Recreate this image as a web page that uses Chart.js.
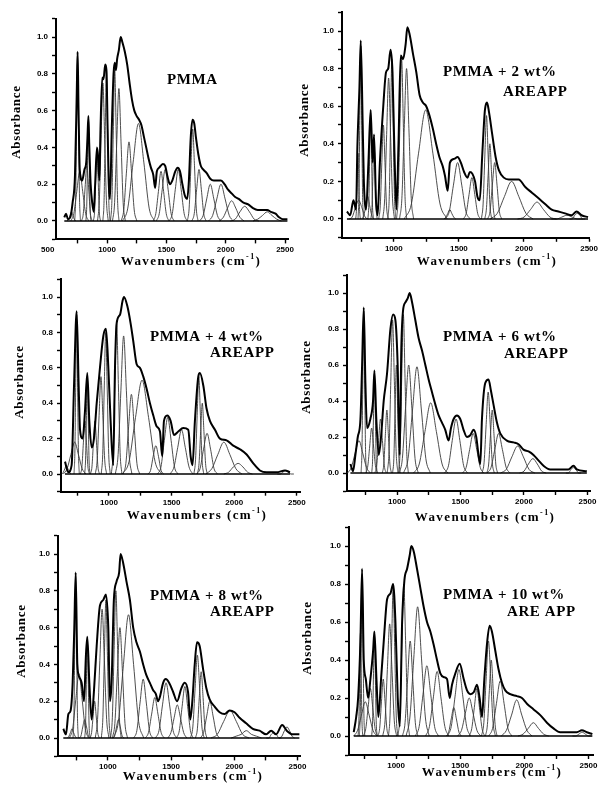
<!DOCTYPE html>
<html><head><meta charset="utf-8">
<script src="https://cdn.jsdelivr.net/npm/chart.js@4.4.1/dist/chart.umd.min.js"></script>
<style>
html,body{margin:0;padding:0;background:#fff;}
#wrap{position:relative;width:600px;height:790px;overflow:hidden;background:#fff;}
#wrap canvas{position:absolute;left:0;top:0;}
</style></head><body><div id="wrap"></div>
<script>
// ---------------- DATA ----------------
const panelLabels = [["PMMA"], ["PMMA + 2 wt%", "AREAPP"], ["PMMA + 4 wt%", "AREAPP"], ["PMMA + 6 wt%", "AREAPP"], ["PMMA + 8 wt%", "AREAPP"], ["PMMA + 10 wt%", "ARE APP"]];
const xAxisTitle = "Wavenumbers (cm";
const xAxisTitleSup = "-1";
const xAxisTitleEnd = ")";
const yAxisTitle = "Absorbance";
const xMajorTicks = [1000, 1500, 2000, 2500];
const xMinorTicks = [750, 1250, 1750, 2250];
const xExtraTicksFirst = [500];
const yTicks = [-0.1, 0, 0.1, 0.2, 0.3, 0.4, 0.5, 0.6, 0.7, 0.8, 0.9, 1.0, 1.1];
const yLabelledTicks = [0, 0.2, 0.4, 0.6, 0.8, 1.0];

// measured spectra [wavenumber, absorbance]
const spectrum0 = [[640,.02],[655,.04],[670,.01],[690,.02],[710,.1],[730,.25],[745,.7],[752,.92],[760,.6],[770,.28],[790,.22],[810,.28],[825,.32],[835,.45],[843,.57],[850,.42],[862,.2],[875,.1],[888,.05],[900,.2],[915,.4],[925,.35],[935,.22],[945,.5],[960,.78],[970,.77],[985,.85],[995,.82],[1005,.5],[1015,.2],[1025,.12],[1040,.5],[1055,.8],[1065,.86],[1075,.82],[1085,.88],[1100,.93],[1115,1.0],[1130,.97],[1150,.92],[1170,.85],[1190,.75],[1210,.66],[1230,.6],[1250,.57],[1270,.55],[1290,.52],[1310,.46],[1330,.4],[1350,.34],[1370,.29],[1390,.25],[1405,.18],[1420,.27],[1440,.29],[1470,.31],[1490,.3],[1510,.24],[1530,.2],[1550,.22],[1575,.27],[1595,.29],[1615,.27],[1635,.2],[1655,.14],[1675,.12],[1690,.22],[1705,.45],[1720,.55],[1735,.53],[1750,.45],[1770,.36],[1790,.3],[1810,.28],[1840,.26],[1870,.23],[1900,.22],[1930,.22],[1960,.22],[1990,.2],[2020,.17],[2050,.15],[2080,.13],[2110,.12],[2150,.1],[2190,.09],[2230,.07],[2270,.06],[2310,.06],[2350,.06],[2380,.05],[2420,.04],[2450,.02],[2480,.01],[2520,.01]];
const spectrum2wt = [[640,.04],[665,.02],[690,.1],[710,.05],[720,.38],[736,.7],[746,.95],[761,.5],[770,.2],[787,.05],[805,.3],[822,.58],[838,.3],[848,.45],[863,.1],[876,.02],[893,.3],[919,.6],[940,.78],[957,.8],[975,.9],[990,.78],[1005,.35],[1020,.05],[1036,.4],[1053,.87],[1071,.85],[1091,.93],[1104,1.02],[1122,.98],[1147,.88],[1173,.78],[1198,.66],[1223,.62],[1249,.6],[1274,.55],[1300,.48],[1325,.4],[1350,.33],[1376,.28],[1393,.23],[1414,.15],[1431,.3],[1464,.32],[1490,.33],[1515,.3],[1540,.25],[1566,.22],[1584,.25],[1604,.24],[1624,.2],[1642,.12],[1660,.1],[1680,.35],[1700,.58],[1716,.62],[1731,.57],[1756,.45],[1782,.33],[1807,.26],[1845,.22],[1883,.21],[1920,.21],[1959,.21],[2010,.17],[2061,.14],[2112,.11],[2162,.08],[2213,.05],[2264,.04],[2315,.03],[2365,.02],[2404,.04],[2442,.02],[2492,.01]];
const spectrum4wt = [[649,.07],[675,.01],[702,.05],[721,.5],[742,.92],[758,.5],[769,.25],[790,.2],[808,.35],[827,.57],[843,.3],[862,.15],[880,.2],[902,.4],[928,.6],[955,.78],[976,.82],[995,.6],[1013,.3],[1034,.05],[1048,.6],[1061,.85],[1088,.9],[1109,.98],[1120,1.0],[1146,.95],[1173,.85],[1194,.75],[1221,.62],[1247,.6],[1274,.55],[1301,.48],[1327,.4],[1354,.33],[1380,.27],[1407,.24],[1425,.1],[1439,.3],[1465,.33],[1492,.3],[1519,.22],[1553,.24],[1593,.26],[1633,.25],[1652,.1],[1667,.05],[1686,.3],[1713,.55],[1726,.57],[1753,.5],[1779,.37],[1806,.3],[1846,.25],[1886,.2],[1939,.19],[1992,.16],[2045,.14],[2099,.11],[2152,.06],[2205,.02],[2259,.01],[2338,.01],[2405,.02],[2445,.01]];
const spectrum6wt = [[633,.05],[654,.01],[672,.1],[691,.2],[712,.3],[725,.6],[738,.92],[751,.5],[764,.25],[790,.3],[811,.4],[822,.57],[837,.3],[856,.1],[874,.2],[895,.4],[921,.55],[948,.8],[969,.88],[987,.85],[1005,.6],[1021,.1],[1034,.7],[1047,.9],[1068,.95],[1084,.97],[1100,1.0],[1118,.95],[1144,.85],[1170,.75],[1197,.68],[1223,.6],[1249,.52],[1275,.45],[1302,.38],[1328,.32],[1354,.28],[1380,.24],[1406,.18],[1425,.25],[1446,.3],[1472,.32],[1498,.3],[1524,.24],[1551,.2],[1577,.21],[1603,.24],[1624,.2],[1642,.1],[1656,.05],[1669,.3],[1695,.5],[1721,.52],[1739,.46],[1760,.38],[1787,.28],[1813,.22],[1865,.18],[1918,.17],[1957,.16],[1996,.13],[2036,.12],[2075,.1],[2114,.07],[2154,.04],[2206,.02],[2259,.02],[2311,.02],[2350,.02],[2390,.04],[2416,.02],[2495,.01]];
const spectrum8wt = [[647,.05],[668,.02],[687,.13],[705,.15],[721,.3],[734,.6],[745,.9],[758,.4],[774,.33],[792,.3],[811,.2],[826,.45],[837,.55],[853,.3],[871,.1],[889,.25],[911,.5],[937,.72],[963,.75],[984,.78],[1003,.6],[1016,.2],[1029,.3],[1047,.75],[1068,.85],[1089,.9],[1100,1.0],[1121,.95],[1147,.85],[1174,.75],[1200,.6],[1226,.52],[1253,.47],[1279,.4],[1305,.34],[1332,.3],[1358,.26],[1379,.24],[1397,.2],[1410,.22],[1437,.3],[1458,.32],[1484,.3],[1516,.25],[1547,.2],[1581,.27],[1608,.3],[1634,.25],[1652,.1],[1668,.2],[1687,.4],[1705,.52],[1726,.5],[1752,.38],[1779,.27],[1805,.21],[1845,.17],[1884,.14],[1923,.13],[1963,.15],[2002,.14],[2042,.11],[2094,.08],[2147,.05],[2200,.04],[2252,.02],[2292,.04],[2331,.02],[2379,.07],[2415,.04],[2463,.02],[2515,.02]];
const spectrum10wt = [[670,.02],[689,.1],[704,.2],[722,.5],[735,.88],[748,.4],[764,.3],[782,.2],[800,.3],[821,.45],[831,.55],[847,.3],[862,.1],[883,.3],[904,.5],[930,.72],[956,.75],[977,.8],[995,.6],[1013,.2],[1029,.05],[1047,.6],[1065,.82],[1086,.88],[1106,.95],[1119,1.0],[1138,.97],[1163,.88],[1189,.78],[1215,.68],[1241,.6],[1267,.55],[1293,.48],[1319,.4],[1345,.33],[1371,.31],[1397,.3],[1418,.2],[1436,.27],[1462,.33],[1496,.38],[1527,.3],[1553,.24],[1579,.22],[1605,.23],[1631,.27],[1651,.2],[1670,.1],[1688,.3],[1708,.48],[1729,.58],[1747,.55],[1773,.45],[1799,.35],[1825,.28],[1851,.24],[1890,.22],[1942,.21],[1981,.2],[2020,.17],[2072,.14],[2124,.11],[2176,.07],[2227,.04],[2279,.02],[2331,.02],[2409,.02],[2448,.03],[2487,.02],[2530,.01]];

// fitted component bands
const peaks0 = [
[[664,0],[676,.01],[688,.03],[700,.05],[712,.03],[724,.01],[736,0]],
[[728,0],[736,.13],[744,.54],[752,.9],[760,.54],[768,.13],[776,0]],
[[695,0],[720,.04],[745,.16],[770,.27],[795,.16],[820,.04],[845,0]],
[[785,0],[800,.04],[815,.18],[830,.3],[845,.18],[860,.04],[875,0]],
[[822,0],[829,.08],[836,.33],[843,.55],[850,.33],[857,.08],[864,0]],
[[885,0],[895,.05],[905,.23],[915,.38],[925,.23],[935,.05],[945,0]],
[[920,0],[935,.11],[950,.45],[965,.75],[980,.45],[995,.11],[1010,0]],
[[965,0],[975,.11],[985,.49],[995,.82],[1005,.49],[1015,.11],[1025,0]],
[[1029,0],[1041,.11],[1053,.49],[1065,.82],[1077,.49],[1089,.11],[1101,0]],
[[1046,0],[1064,.1],[1082,.43],[1100,.72],[1118,.43],[1136,.1],[1154,0]],
[[1119,0],[1141,.06],[1163,.26],[1185,.43],[1207,.26],[1229,.06],[1251,0]],
[[1130,0],[1175,.07],[1220,.32],[1265,.53],[1310,.32],[1355,.07],[1400,0]],
[[1389,0],[1411,.04],[1433,.16],[1455,.27],[1477,.16],[1499,.04],[1521,0]],
[[1415,0],[1440,.04],[1465,.17],[1490,.28],[1515,.17],[1540,.04],[1565,0]],
[[1525,0],[1550,.04],[1575,.17],[1600,.28],[1625,.17],[1650,.04],[1675,0]],
[[1677,0],[1692,.07],[1707,.3],[1722,.5],[1737,.3],[1752,.07],[1767,0]],
[[1715,0],[1735,.04],[1755,.17],[1775,.28],[1795,.17],[1815,.04],[1835,0]],
[[1780,0],[1810,.03],[1840,.12],[1870,.2],[1900,.12],[1930,.03],[1960,0]],
[[1855,0],[1890,.03],[1925,.12],[1960,.2],[1995,.12],[2030,.03],[2065,0]],
[[1945,0],[1980,.02],[2015,.07],[2050,.11],[2085,.07],[2120,.02],[2155,0]],
[[2040,0],[2080,.01],[2120,.05],[2160,.08],[2200,.05],[2240,.01],[2280,0]],
[[2230,0],[2270,.01],[2310,.03],[2350,.05],[2390,.03],[2430,.01],[2470,0]]
];
const peaks2wt = [
[[655,0],[680,.01],[705,.06],[730,.1],[755,.06],[780,.01],[805,0]],
[[725,0],[732,.13],[739,.55],[746,.92],[753,.55],[760,.13],[767,0]],
[[707,0],[713,.05],[719,.21],[725,.35],[731,.21],[737,.05],[743,0]],
[[801,0],[808,.08],[815,.35],[822,.58],[829,.35],[836,.08],[843,0]],
[[824,0],[832,.06],[840,.25],[848,.42],[856,.25],[864,.06],[872,0]],
[[755,0],[770,.02],[785,.07],[800,.12],[815,.07],[830,.02],[845,0]],
[[884,0],[896,.07],[908,.3],[920,.5],[932,.3],[944,.07],[956,0]],
[[915,0],[930,.11],[945,.45],[960,.75],[975,.45],[990,.11],[1005,0]],
[[955,0],[965,.12],[975,.51],[985,.85],[995,.51],[1005,.12],[1015,0]],
[[1021,0],[1034,.12],[1047,.51],[1060,.85],[1073,.51],[1086,.12],[1099,0]],
[[1044,0],[1062,.11],[1080,.48],[1098,.8],[1116,.48],[1134,.11],[1152,0]],
[[1080,0],[1135,.08],[1190,.35],[1245,.58],[1300,.35],[1355,.08],[1410,0]],
[[1385,0],[1400,.01],[1415,.03],[1430,.05],[1445,.03],[1460,.01],[1475,0]],
[[1394,0],[1426,.04],[1458,.18],[1490,.3],[1522,.18],[1554,.04],[1586,0]],
[[1534,0],[1556,.03],[1578,.13],[1600,.22],[1622,.13],[1644,.03],[1666,0]],
[[1673,0],[1686,.08],[1699,.33],[1712,.55],[1725,.33],[1738,.08],[1751,0]],
[[1699,0],[1712,.06],[1725,.24],[1738,.4],[1751,.24],[1764,.06],[1777,0]],
[[1721,0],[1739,.04],[1757,.18],[1775,.3],[1793,.18],[1811,.04],[1829,0]],
[[1740,0],[1795,.03],[1850,.12],[1905,.2],[1960,.12],[2015,.03],[2070,0]],
[[1950,0],[2000,.01],[2050,.05],[2100,.09],[2150,.05],[2200,.01],[2250,0]],
[[2210,0],[2250,0],[2290,.01],[2330,.02],[2370,.01],[2410,0],[2450,0]],
[[2350,0],[2370,0],[2390,.02],[2410,.03],[2430,.02],[2450,0],[2470,0]]
];
const peaks4wt = [
[[624,0],[636,.01],[648,.03],[660,.05],[672,.03],[684,.01],[696,0]],
[[636,0],[666,.03],[696,.11],[726,.18],[756,.11],[786,.03],[816,0]],
[[721,0],[728,.13],[735,.54],[742,.9],[749,.54],[756,.13],[763,0]],
[[772,0],[784,.04],[796,.18],[808,.3],[820,.18],[832,.04],[844,0]],
[[806,0],[813,.08],[820,.33],[827,.55],[834,.33],[841,.08],[848,0]],
[[852,0],[864,.04],[876,.18],[888,.3],[900,.18],[912,.04],[924,0]],
[[891,0],[906,.08],[921,.33],[936,.55],[951,.33],[966,.08],[981,0]],
[[938,0],[950,.11],[962,.48],[974,.8],[986,.48],[998,.11],[1010,0]],
[[1019,0],[1033,.12],[1047,.51],[1061,.85],[1075,.51],[1089,.12],[1103,0]],
[[1051,0],[1073,.11],[1095,.47],[1117,.78],[1139,.47],[1161,.11],[1183,0]],
[[1113,0],[1135,.06],[1157,.27],[1179,.45],[1201,.27],[1223,.06],[1245,0]],
[[1108,0],[1160,.07],[1212,.32],[1264,.53],[1316,.32],[1368,.07],[1420,0]],
[[1311,0],[1332,.02],[1353,.1],[1374,.16],[1395,.1],[1416,.02],[1437,0]],
[[1388,0],[1415,.04],[1442,.19],[1469,.32],[1496,.19],[1523,.04],[1550,0]],
[[1489,0],[1519,.04],[1549,.15],[1579,.25],[1609,.15],[1639,.04],[1669,0]],
[[1678,0],[1691,.08],[1704,.33],[1717,.55],[1730,.33],[1743,.08],[1756,0]],
[[1706,0],[1719,.06],[1732,.24],[1745,.4],[1758,.24],[1771,.06],[1784,0]],
[[1699,0],[1727,.03],[1755,.14],[1783,.23],[1811,.14],[1839,.03],[1867,0]],
[[1773,0],[1821,.03],[1869,.11],[1917,.18],[1965,.11],[2013,.03],[2061,0]],
[[1917,0],[1955,.01],[1993,.04],[2031,.06],[2069,.04],[2107,.01],[2145,0]],
[[2344,0],[2366,0],[2388,.01],[2410,.02],[2432,.01],[2454,0],[2476,0]]
];
const peaks6wt = [
[[610,0],[640,.03],[670,.11],[700,.18],[730,.11],[760,.03],[790,0]],
[[717,0],[724,.13],[731,.54],[738,.9],[745,.54],[752,.13],[759,0]],
[[755,0],[770,.04],[785,.15],[800,.25],[815,.15],[830,.04],[845,0]],
[[801,0],[808,.08],[815,.33],[822,.55],[829,.33],[836,.08],[843,0]],
[[825,0],[840,.04],[855,.18],[870,.3],[885,.18],[900,.04],[915,0]],
[[884,0],[896,.05],[908,.21],[920,.35],[932,.21],[944,.05],[956,0]],
[[923,0],[937,.12],[951,.51],[965,.85],[979,.51],[993,.12],[1007,0]],
[[965,0],[975,.08],[985,.36],[995,.6],[1005,.36],[1015,.08],[1025,0]],
[[1011,0],[1024,.12],[1037,.53],[1050,.88],[1063,.53],[1076,.12],[1089,0]],
[[1017,0],[1042,.08],[1067,.36],[1092,.6],[1117,.36],[1142,.08],[1167,0]],
[[1052,0],[1087,.08],[1122,.35],[1157,.59],[1192,.35],[1227,.08],[1262,0]],
[[1130,0],[1175,.05],[1220,.23],[1265,.39],[1310,.23],[1355,.05],[1400,0]],
[[1375,0],[1405,.04],[1435,.18],[1465,.3],[1495,.18],[1525,.04],[1555,0]],
[[1516,0],[1544,.03],[1572,.13],[1600,.22],[1628,.13],[1656,.03],[1684,0]],
[[1670,0],[1686,.06],[1702,.27],[1718,.45],[1734,.27],[1750,.06],[1766,0]],
[[1708,0],[1722,.05],[1736,.21],[1750,.35],[1764,.21],[1778,.05],[1792,0]],
[[1710,0],[1740,.03],[1770,.13],[1800,.22],[1830,.13],[1860,.03],[1890,0]],
[[1815,0],[1860,.02],[1905,.09],[1950,.15],[1995,.09],[2040,.02],[2085,0]],
[[1965,0],[2000,.01],[2035,.05],[2070,.08],[2105,.05],[2140,.01],[2175,0]],
[[2330,0],[2350,0],[2370,.02],[2390,.03],[2410,.02],[2430,0],[2450,0]]
];
const peaks8wt = [
[[680,0],[692,.01],[704,.03],[716,.05],[728,.03],[740,.01],[752,0]],
[[724,0],[731,.12],[738,.53],[745,.88],[752,.53],[759,.12],[766,0]],
[[696,0],[721,.05],[746,.21],[771,.35],[796,.21],[821,.05],[846,0]],
[[771,0],[786,.01],[801,.06],[816,.1],[831,.06],[846,.01],[861,0]],
[[816,0],[823,.07],[830,.32],[837,.53],[844,.32],[851,.07],[858,0]],
[[859,0],[871,.03],[883,.12],[895,.2],[907,.12],[919,.03],[931,0]],
[[900,0],[918,.1],[936,.42],[954,.7],[972,.42],[990,.1],[1008,0]],
[[948,0],[960,.11],[972,.45],[984,.75],[996,.45],[1008,.11],[1020,0]],
[[1021,0],[1035,.11],[1049,.48],[1063,.8],[1077,.48],[1091,.11],[1105,0]],
[[1035,0],[1055,.08],[1075,.36],[1095,.6],[1115,.36],[1135,.08],[1155,0]],
[[1043,0],[1083,.09],[1123,.4],[1163,.67],[1203,.4],[1243,.09],[1283,0]],
[[1038,0],[1053,.01],[1068,.06],[1083,.1],[1098,.06],[1113,.01],[1128,0]],
[[1204,0],[1229,.04],[1254,.19],[1279,.32],[1304,.19],[1329,.04],[1354,0]],
[[1296,0],[1321,.03],[1346,.13],[1371,.22],[1396,.13],[1421,.03],[1446,0]],
[[1376,0],[1404,.04],[1432,.18],[1460,.3],[1488,.18],[1516,.04],[1544,0]],
[[1474,0],[1499,.03],[1524,.11],[1549,.18],[1574,.11],[1599,.03],[1624,0]],
[[1543,0],[1565,.04],[1587,.17],[1609,.28],[1631,.17],[1653,.04],[1675,0]],
[[1654,0],[1672,.06],[1690,.27],[1708,.45],[1726,.27],[1744,.06],[1762,0]],
[[1693,0],[1708,.05],[1723,.22],[1738,.36],[1753,.22],[1768,.05],[1783,0]],
[[1732,0],[1757,.03],[1782,.12],[1807,.2],[1832,.12],[1857,.03],[1882,0]],
[[1816,0],[1866,.02],[1916,.09],[1966,.15],[2016,.09],[2066,.02],[2116,0]],
[[1975,0],[2015,.01],[2055,.02],[2095,.04],[2135,.02],[2175,.01],[2215,0]],
[[2253,0],[2273,0],[2293,.02],[2313,.03],[2333,.02],[2353,0],[2373,0]],
[[2357,0],[2377,.01],[2397,.04],[2417,.06],[2437,.04],[2457,.01],[2477,0]]
];
const peaks10wt = [
[[704,0],[710,.08],[716,.32],[722,.54],[728,.32],[734,.08],[740,0]],
[[714,0],[721,.12],[728,.51],[735,.85],[742,.51],[749,.12],[756,0]],
[[670,0],[700,.03],[730,.11],[760,.18],[790,.11],[820,.03],[850,0]],
[[746,0],[764,.04],[782,.15],[800,.25],[818,.15],[836,.04],[854,0]],
[[810,0],[817,.08],[824,.33],[831,.55],[838,.33],[845,.08],[852,0]],
[[858,0],[872,.04],[886,.18],[900,.3],[914,.18],[928,.04],[942,0]],
[[896,0],[914,.08],[932,.35],[950,.59],[968,.35],[986,.08],[1004,0]],
[[941,0],[953,.11],[965,.47],[977,.78],[989,.47],[1001,.11],[1013,0]],
[[1015,0],[1030,.11],[1045,.48],[1060,.8],[1075,.48],[1090,.11],[1105,0]],
[[1050,0],[1070,.07],[1090,.3],[1110,.5],[1130,.3],[1150,.07],[1170,0]],
[[1078,0],[1108,.1],[1138,.41],[1168,.68],[1198,.41],[1228,.1],[1258,0]],
[[1150,0],[1180,.05],[1210,.22],[1240,.37],[1270,.22],[1300,.05],[1330,0]],
[[1230,0],[1260,.05],[1290,.2],[1320,.34],[1350,.2],[1380,.05],[1410,0]],
[[1390,0],[1410,.02],[1430,.09],[1450,.15],[1470,.09],[1490,.02],[1510,0]],
[[1400,0],[1430,.05],[1460,.21],[1490,.35],[1520,.21],[1550,.05],[1580,0]],
[[1480,0],[1510,.03],[1540,.12],[1570,.2],[1600,.12],[1630,.03],[1660,0]],
[[1570,0],[1590,.04],[1610,.15],[1630,.25],[1650,.15],[1670,.04],[1690,0]],
[[1666,0],[1684,.07],[1702,.3],[1720,.5],[1738,.3],[1756,.07],[1774,0]],
[[1697,0],[1712,.06],[1727,.24],[1742,.4],[1757,.24],[1772,.06],[1787,0]],
[[1722,0],[1752,.04],[1782,.17],[1812,.29],[1842,.17],[1872,.04],[1902,0]],
[[1820,0],[1860,.03],[1900,.11],[1940,.19],[1980,.11],[2020,.03],[2060,0]],
[[1950,0],[1990,.01],[2030,.04],[2070,.07],[2110,.04],[2150,.01],[2190,0]],
[[2375,0],[2400,0],[2425,.01],[2450,.02],[2475,.01],[2500,0],[2525,0]]
];

const spectra = [spectrum0, spectrum2wt, spectrum4wt, spectrum6wt, spectrum8wt, spectrum10wt];
const peakSets = [peaks0, peaks2wt, peaks4wt, peaks6wt, peaks8wt, peaks10wt];

// ---------------- LAYOUT (page pixels) ----------------
const frames = [
  {l:56,  r:288, t:18.6,  b:239.4, xmin:570, xmax:2525, yT:[17,122],  xT:[191,262], lab:[[167,80]]},
  {l:342, r:590, t:12.2,  b:237.8, xmin:602, xmax:2505, yT:[305,120], xT:[487,262], lab:[[443,72],[503,92]]},
  {l:61,  r:300, t:279.3, b:491.7, xmin:617, xmax:2525, yT:[20,382],  xT:[197,516], lab:[[150,337],[210,353]]},
  {l:347, r:590, t:275,   b:491,   xmin:606, xmax:2520, yT:[307,377], xT:[485,518], lab:[[443,337],[504,354]]},
  {l:58,  r:300, t:535.6, b:756.4, xmin:605, xmax:2520, yT:[22,641],  xT:[193,777], lab:[[150,596],[210,612]]},
  {l:349, r:593, t:527,   b:755,   xmin:633, xmax:2535, yT:[308,638], xT:[492,773], lab:[[443,595],[507,612]]}
];

// ---------------- RENDER ----------------
const textPlugin = {
  id: 'panelText',
  afterDraw(chart, _a, opts) {
    const ctx = chart.ctx;
    for (const it of (opts.items || [])) {
      ctx.save();
      ctx.fillStyle = '#000';
      ctx.textBaseline = 'middle';
      ctx.translate(it.x, it.y);
      if (it.rotate) ctx.rotate(-Math.PI / 2);
      const mainFont = 'bold ' + it.size + 'px "Liberation Serif", "Times New Roman", serif';
      ctx.font = mainFont;
      ctx.letterSpacing = (it.spacing || 0) + 'px';
      if (it.sup) {
        const supFont = 'bold ' + Math.round(it.size * 0.62) + 'px "Liberation Serif", serif';
        const w1 = ctx.measureText(it.text).width;
        ctx.font = supFont; const w2 = ctx.measureText(it.sup).width;
        ctx.font = mainFont; const w3 = ctx.measureText(it.after).width;
        const x0 = -(w1 + w2 + w3) / 2;
        ctx.textAlign = 'left';
        ctx.fillText(it.text, x0, 0);
        ctx.font = supFont; ctx.fillText(it.sup, x0 + w1, -it.size * 0.38);
        ctx.font = mainFont; ctx.fillText(it.after, x0 + w1 + w2, 0);
      } else {
        ctx.textAlign = it.align || 'left';
        ctx.fillText(it.text, 0, 0);
      }
      ctx.restore();
    }
  }
};
Chart.register(textPlugin);

const wrap = document.getElementById('wrap');
const toXY = arr => arr.map(p => ({x: p[0], y: p[1]}));
const tickFont = {family: '"Liberation Sans", Arial, sans-serif', size: 8, weight: 'bold'};

function makePanel(i) {
  const f = frames[i];
  const cv = document.createElement('canvas');
  cv.width = 600; cv.height = 790;
  wrap.appendChild(cv);
  const extra = i === 0 ? xExtraTicksFirst : [];
  const xt = extra.concat(xMinorTicks, xMajorTicks).sort((a, b) => a - b);
  const spec = spectra[i];
  const ds = [];
  ds.push({data: toXY(spec), borderColor: '#000', borderWidth: 2});
  ds.push({data: toXY([[spec[0][0], 0], [spec[spec.length - 1][0], 0]]), borderColor: '#000', borderWidth: 1.4});
  peakSets[i].forEach(p => ds.push({data: toXY(p), borderColor: '#3a3a3a', borderWidth: 0.9}));

  const items = [];
  panelLabels[i].forEach((t, k) => items.push({text: t, x: f.lab[k][0], y: f.lab[k][1], size: 15, spacing: 0.6}));
  items.push({text: yAxisTitle, x: f.yT[0], y: f.yT[1], size: 13, spacing: 0.7, rotate: true, align: 'center'});
  items.push({text: xAxisTitle, sup: xAxisTitleSup, after: xAxisTitleEnd, x: f.xT[0], y: f.xT[1], size: 13, spacing: 1.4});

  new Chart(cv, {
    type: 'line',
    data: {datasets: ds},
    options: {
      responsive: false, animation: false, events: [],
      layout: {padding: {left: f.l - 30, right: 600 - f.r, top: f.t, bottom: 790 - f.b - 20}},
      elements: {point: {radius: 0}, line: {cubicInterpolationMode: 'monotone', fill: false}},
      plugins: {legend: {display: false}, tooltip: {enabled: false}, panelText: {items}},
      scales: {
        x: {
          type: 'linear', min: f.xmin, max: f.xmax,
          afterBuildTicks: s => { s.ticks = xt.map(v => ({value: v})); },
          afterFit: s => { s.height = 20; },
          ticks: {autoSkip: false, maxRotation: 0, minRotation: 0, padding: 2, color: '#000', font: tickFont,
            callback: v => (xMajorTicks.includes(v) || extra.includes(v)) ? String(v) : ''},
          grid: {drawOnChartArea: false, drawTicks: true, tickLength: 4, tickWidth: 1.4,
            tickColor: c => (c.tick && c.tick.value < f.xmin) ? 'rgba(0,0,0,0)' : '#000'},
          border: {color: '#000', width: 2}
        },
        y: {
          type: 'linear', min: -0.1, max: 1.1,
          afterBuildTicks: s => { s.ticks = yTicks.map(v => ({value: v})); },
          afterFit: s => { s.width = 30; },
          ticks: {autoSkip: false, padding: 4, color: '#000', font: tickFont,
            callback: v => yLabelledTicks.some(l => Math.abs(l - v) < 1e-6) ? v.toFixed(1) : ''},
          grid: {drawOnChartArea: false, drawTicks: true, tickLength: 4, tickWidth: 1.4, tickColor: '#000'},
          border: {color: '#000', width: 2}
        }
      }
    }
  });
}
for (let i = 0; i < 6; i++) makePanel(i);
</script></body></html>
